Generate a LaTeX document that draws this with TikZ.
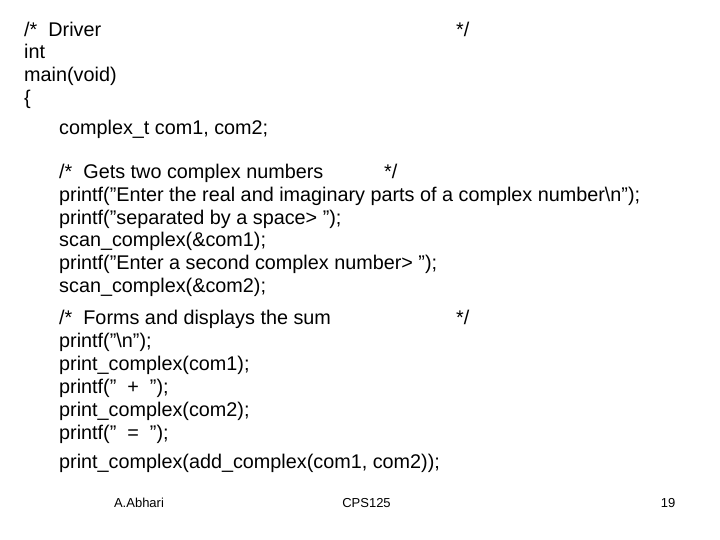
\documentclass[tikz,border=0pt]{standalone}
\usepackage{fontspec}
\setmainfont{Liberation Sans}
\newcommand{\qq}{\symbol{34}}
\begin{document}
\begin{tikzpicture}[x=1pt,y=1pt,
 code/.style={anchor=base west,inner sep=0pt,font=\fontsize{19.8}{22}\selectfont},
 foot/.style={anchor=base,inner sep=0pt,font=\fontsize{13}{15}\selectfont}]
\useasboundingbox (0,0) rectangle (720,-540);
\node[code] (l1) at (24,-36.5) {/*\ \ Driver};
\node[code] (c1) at (456,-36.5) {*/};
\node[code] (l2) at (24,-59) {int};
\node[code] (l3) at (24,-82) {main(void)};
\node[code] (l4) at (24,-105) {\{};
\node[code] (l5) at (59,-134.5) {complex\_t com1, com2;};
\node[code] (l6) at (59,-178.5) {/*\ \ Gets two complex numbers};
\node[code] (c6) at (384,-178.5) {*/};
\node[code] (l7) at (59,-201.5) {printf(\qq Enter the real and imaginary parts of a complex number\textbackslash n\qq);};
\node[code] (l8) at (59,-224.5) {printf(\qq separated by a space> \qq);};
\node[code] (l9) at (59,-246.5) {scan\_complex(\&com1);};
\node[code] (l10) at (59,-269.5) {printf(\qq Enter a second complex number> \qq);};
\node[code] (l11) at (59,-292.5) {scan\_complex(\&com2);};
\node[code] (l12) at (59,-324.5) {/*\ \ Forms and displays the sum};
\node[code] (c12) at (456,-324.5) {*/};
\node[code] (l13) at (59,-347) {printf(\qq\textbackslash n\qq);};
\node[code] (l14) at (59,-370) {print\_complex(com1);};
\node[code] (l15) at (59,-393) {printf(\qq\ \ +\ \ \qq);};
\node[code] (l16) at (59,-416) {print\_complex(com2);};
\node[code] (l17) at (59,-439) {printf(\qq\ \ =\ \ \qq);};
\node[code] (l18) at (59,-468.5) {print\_complex(add\_complex(com1, com2));};
\node[foot] (f1) at (139,-507.5) {A.Abhari};
\node[foot] (f2) at (366.5,-507.5) {CPS125};
\node[foot] (f3) at (668,-507.5) {19};
\end{tikzpicture}
\end{document}
